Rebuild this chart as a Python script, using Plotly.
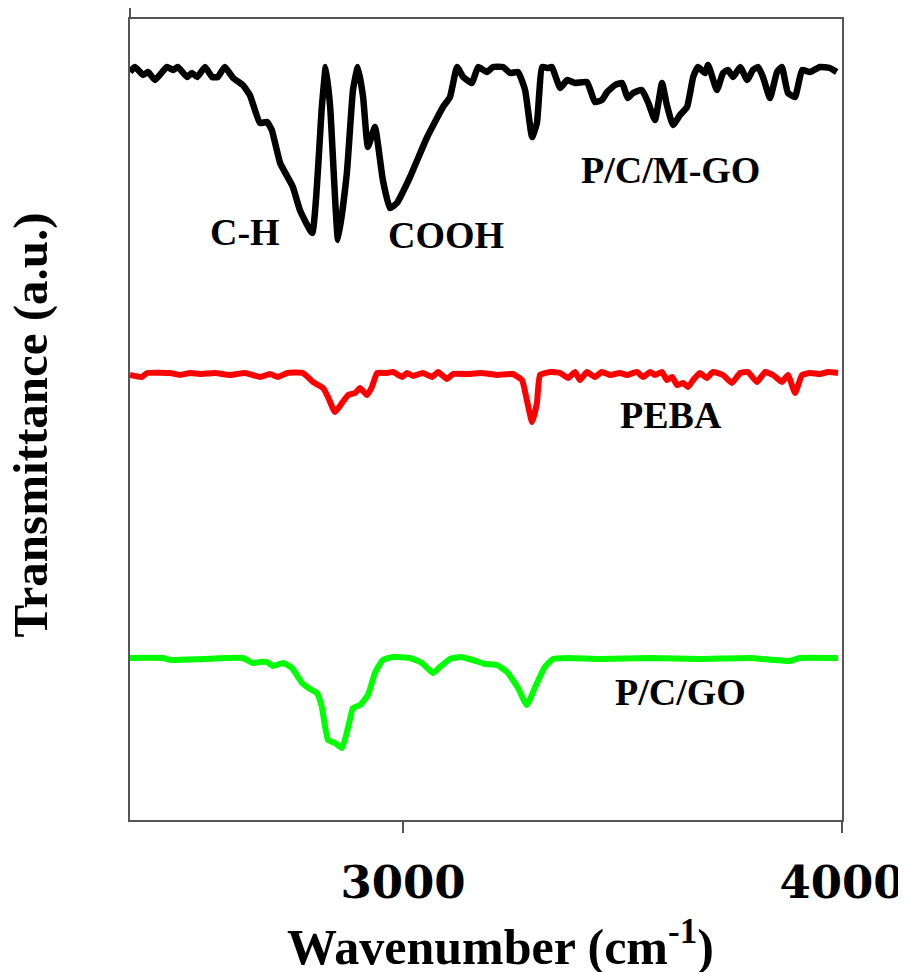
import plotly.graph_objects as go

# Wavenumber (cm-1) and transmittance (a.u.)
pcmgo_x = [2378, 2389, 2408, 2419, 2435, 2462, 2476, 2487, 2508, 2519, 2531, 2549, 2565, 2578, 2594,
           2613, 2635, 2651, 2674, 2690, 2701, 2720, 2749, 2765, 2793, 2815, 2824, 2834, 2852, 2872,
           2886, 2897, 2909, 2920, 2936, 2954, 2970, 2986, 3016, 3055, 3091, 3107, 3123, 3137, 3157,
           3171, 3191, 3205, 3228, 3244, 3262, 3278, 3294, 3305, 3317, 3330, 3339, 3358, 3374, 3392,
           3419, 3437, 3453, 3465, 3483, 3499, 3512, 3524, 3544, 3558, 3574, 3590, 3601, 3615, 3631,
           3647, 3661, 3672, 3688, 3695, 3715, 3729, 3740, 3752, 3768, 3784, 3797, 3809, 3820, 3836,
           3852, 3863, 3877, 3893, 3909, 3927, 3950, 3972, 3988]
pcmgo_y = [74.8, 75.3, 74.5, 74.8, 74.0, 75.3, 75.0, 75.3, 74.3, 74.7, 74.3, 75.3, 74.3, 74.3, 75.3,
           74.2, 73.5, 72.5, 69.7, 69.8, 69.0, 65.7, 63.3, 61.0, 58.7, 71.3, 75.3, 71.3, 58.0, 64.7,
           73.0, 75.3, 72.3, 67.3, 69.3, 64.0, 61.2, 61.7, 64.3, 68.3, 71.3, 72.3, 75.3, 74.3, 73.7,
           75.3, 74.8, 75.3, 75.3, 74.7, 74.8, 73.0, 68.3, 69.7, 75.3, 75.2, 75.3, 73.2, 74.0, 73.7,
           73.8, 71.8, 72.0, 72.8, 73.5, 73.7, 72.2, 72.7, 73.0, 71.8, 70.0, 73.7, 71.5, 69.5, 70.5,
           71.3, 74.3, 75.3, 74.7, 75.5, 73.0, 74.7, 75.0, 74.3, 75.3, 74.0, 75.0, 75.3, 74.3, 72.2,
           74.8, 75.3, 72.7, 72.3, 75.0, 74.8, 75.3, 75.2, 74.8]

peba_x = [2378, 2405, 2417, 2469, 2492, 2515, 2537, 2572, 2606, 2640, 2674, 2697, 2715, 2736, 2772,
          2795, 2818, 2829, 2845, 2861, 2875, 2891, 2902, 2918, 2929, 2941, 2963, 2977, 2998, 3009,
          3023, 3045, 3066, 3080, 3100, 3114, 3153, 3175, 3198, 3214, 3250, 3271, 3282, 3294, 3305,
          3312, 3335, 3358, 3376, 3392, 3403, 3419, 3437, 3453, 3471, 3494, 3510, 3533, 3547, 3563,
          3574, 3590, 3601, 3613, 3624, 3638, 3649, 3661, 3676, 3692, 3706, 3729, 3749, 3768, 3786,
          3806, 3825, 3843, 3863, 3877, 3893, 3909, 3927, 3950, 3968, 3991]
peba_y = [44.5, 44.3, 44.7, 44.7, 44.5, 44.7, 44.6, 44.7, 44.5, 44.7, 44.3, 44.6, 44.3, 44.7, 44.7,
          43.8, 43.2, 42.3, 40.8, 41.7, 42.5, 42.7, 43.2, 42.5, 43.3, 44.7, 44.7, 44.8, 44.3, 44.7,
          44.4, 44.7, 44.3, 44.8, 44.1, 44.6, 44.6, 44.7, 44.6, 44.5, 44.6, 44.0, 42.0, 39.8, 41.7,
          44.5, 44.8, 44.7, 44.2, 44.8, 44.0, 44.8, 44.3, 44.8, 44.5, 44.7, 44.5, 44.8, 44.3, 44.8,
          44.5, 44.8, 44.0, 44.3, 43.5, 43.7, 43.3, 44.0, 44.7, 44.2, 44.8, 44.5, 43.7, 44.7, 44.8,
          43.8, 44.8, 44.5, 43.8, 44.5, 42.7, 44.5, 44.7, 44.6, 44.8, 44.7]

pcgo_x = [2378, 2453, 2469, 2544, 2635, 2658, 2674, 2690, 2704, 2727, 2747, 2770, 2788, 2804, 2815,
          2829, 2845, 2861, 2875, 2886, 2902, 2920, 2936, 2954, 2977, 3016, 3043, 3068, 3084, 3107,
          3130, 3159, 3187, 3214, 3237, 3262, 3282, 3301, 3323, 3342, 3376, 3449, 3563, 3676, 3790,
          3881, 3904, 3991]
pcgo_y = [16.2, 16.2, 16.0, 16.1, 16.2, 15.7, 15.8, 15.8, 15.4, 15.7, 15.2, 13.7, 13.1, 12.7, 11.3,
          8.0, 7.7, 7.2, 9.3, 11.2, 11.5, 12.5, 14.7, 16.0, 16.3, 16.2, 15.7, 14.7, 15.3, 16.1,
          16.3, 16.0, 15.6, 15.5, 14.8, 13.2, 11.5, 13.3, 15.3, 16.1, 16.2, 16.1, 16.2, 16.1, 16.2,
          15.9, 16.2, 16.2]

x_tickvals = [3000, 4000]
x_ticktext = ["3000", "4000"]

labels = ["C-H", "COOH", "P/C/M-GO", "PEBA", "P/C/GO"]
label_x = [2640, 3098, 3610, 3610, 3631]
label_y = [58.8, 58.5, 65.0, 40.5, 12.8]

x_title = "Wavenumber (cm<sup>-1</sup>)"
y_title = "Transmittance (a.u.)"

SERIF = "Liberation Serif"

fig = go.Figure()
for xs, ys, col, w in [(pcmgo_x, pcmgo_y, "#000000", 6.5), (peba_x, peba_y, "#ff0000", 6),
                       (pcgo_x, pcgo_y, "#00ff00", 6)]:
    fig.add_trace(go.Scatter(x=xs, y=ys, mode="lines",
                             line=dict(color=col, width=w, shape="spline", smoothing=0.4),
                             showlegend=False, hoverinfo="skip"))

for t, lx, ly in zip(labels, label_x, label_y):
    fig.add_annotation(x=lx, y=ly, text=t, showarrow=False,
                       font=dict(family=SERIF, size=38, color="black", weight="bold"))

# axis titles
fig.add_annotation(xref="paper", yref="paper", x=0.521, y=-0.154, text=x_title,
                   showarrow=False, xanchor="center", yanchor="middle",
                   font=dict(family=SERIF, size=50, color="black", weight="bold"))
fig.add_annotation(xref="paper", yref="paper", x=-0.140, y=0.493, text=y_title,
                   showarrow=False, xanchor="center", yanchor="middle", textangle=-90,
                   font=dict(family=SERIF, size=49, color="black", weight="bold"))

# small overshoot of the left axis line above the frame
fig.add_shape(type="line", xref="paper", yref="paper", x0=0, x1=0, y0=1, y1=1.014,
              line=dict(color="#555555", width=2))

# the page body adds an 8 px offset, so the figure is 8 px smaller and margins shifted
fig.update_layout(
    width=898, height=964,
    margin=dict(l=122, r=64, t=11, b=152),
    paper_bgcolor="white", plot_bgcolor="white",
    xaxis=dict(range=[2378, 4000], tickvals=x_tickvals, ticktext=x_ticktext,
               automargin=False,
               showgrid=False, zeroline=False, showline=True, mirror=True,
               linecolor="#555555", linewidth=2, ticks="outside", ticklen=11,
               tickwidth=2, tickcolor="#555555", ticklabelstandoff=11,
               tickfont=dict(family="DejaVu Serif", size=45, color="black", weight="bold")),
    yaxis=dict(range=[0, 80.1], showticklabels=False, ticks="", automargin=False,
               showgrid=False, zeroline=False, showline=True, mirror=True,
               linecolor="#555555", linewidth=2),
)

fig.write_html("out.html")
